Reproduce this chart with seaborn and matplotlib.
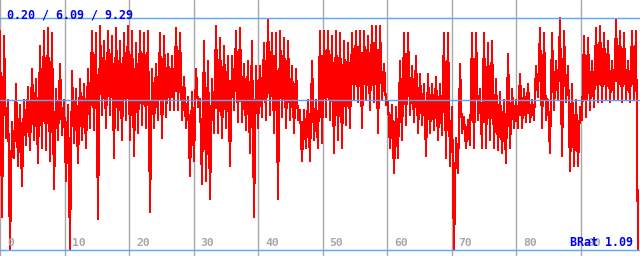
import numpy as np
import matplotlib
matplotlib.use("Agg")
import matplotlib.pyplot as plt
import matplotlib.transforms as mtrans
import seaborn as sns

sns.set_style("white")

# ----------------------------------------------------------------------
# data (alternating high / low of each step)
# ----------------------------------------------------------------------
series = [
    8.8, 1.5, 8.6, 4.6, 6.1, 0.2, 5.2, 3.8, 6.7, 3.5, 5.9, 2.7, 6.1, 4.3, 6.6, 4.1, 7.3, 4.5, 6.9, 3.6,
    8.2, 4.2, 8.8, 4.1, 8.9, 3.7, 8.7, 2.6, 6.5, 4.5, 7.5, 4.7, 6.1, 2.9, 5.9, 0.2, 7.2, 4.4, 6.5, 3.6,
    6.9, 4.5, 6.7, 4.2, 7.3, 5.0, 8.8, 4.9, 8.7, 1.4, 9.0, 5.5, 8.4, 5.0, 8.8, 5.5, 8.6, 3.8, 8.9, 4.9,
    8.4, 4.5, 8.7, 5.3, 9.0, 4.5, 8.8, 3.9, 8.3, 4.8, 8.8, 5.1, 8.7, 5.0, 8.8, 1.7, 7.3, 5.0, 7.5, 5.3,
    8.7, 4.6, 8.6, 5.4, 7.9, 5.7, 7.8, 5.7, 8.9, 5.7, 8.7, 5.3, 7.0, 5.0, 6.2, 3.1, 6.4, 3.7, 7.3, 5.8,
    6.1, 2.8, 8.4, 2.9, 7.6, 2.2, 6.9, 4.8, 9.0, 4.8, 8.5, 4.6, 8.2, 5.0, 7.8, 3.5, 7.8, 5.7, 8.8, 5.2,
    8.9, 5.2, 7.5, 4.9, 7.6, 4.0, 8.4, 1.5, 7.4, 5.0, 7.4, 5.4, 8.3, 5.3, 9.2, 5.5, 8.7, 4.8, 8.7, 2.2,
    8.8, 5.4, 8.5, 5.0, 8.4, 5.3, 7.4, 4.8, 7.3, 5.3, 5.7, 3.7, 5.7, 4.2, 6.1, 3.7, 7.6, 4.5, 6.1, 4.2,
    8.8, 4.4, 8.8, 5.4, 8.8, 5.3, 8.6, 4.0, 8.8, 4.5, 8.7, 4.2, 8.4, 5.1, 8.3, 5.0, 8.7, 6.1, 8.8, 6.0,
    8.8, 5.0, 8.8, 6.1, 8.6, 5.7, 9.0, 6.0, 9.0, 4.8, 9.0, 6.1, 7.5, 5.9, 6.0, 4.2, 5.9, 3.2, 5.8, 3.8,
    7.6, 4.5, 8.7, 5.1, 8.7, 5.5, 7.4, 5.2, 7.8, 4.8, 7.1, 5.1, 6.7, 3.9, 7.1, 4.8, 6.7, 4.9, 7.0, 4.5,
    6.7, 4.7, 8.7, 3.8, 8.7, 3.5, 5.8, 0.2, 4.6, 3.2, 7.5, 4.8, 5.4, 4.2, 5.3, 4.3, 8.7, 4.2, 8.7, 5.3,
    6.5, 4.2, 8.7, 4.2, 8.3, 4.5, 8.4, 4.2, 6.9, 4.1, 6.4, 4.0, 6.1, 3.6, 7.9, 4.2, 6.5, 5.0, 6.1, 5.0,
    7.1, 5.0, 6.5, 5.2, 6.7, 5.2, 6.1, 5.3, 7.4, 6.2, 8.9, 5.0, 8.7, 5.3, 6.1, 4.0, 8.7, 5.7, 7.6, 6.1,
    9.29, 3.9, 8.8, 6.0, 7.4, 3.3, 6.7, 3.5, 6.1, 3.5, 5.8, 5.3, 8.6, 5.4, 8.5, 5.7, 7.6, 5.8, 8.9, 6.0,
    9.0, 6.0, 8.7, 6.1, 8.4, 6.0, 7.6, 6.1, 9.2, 6.1, 8.8, 6.0, 8.7, 6.1, 7.6, 6.0, 8.8, 6.1, 8.8, 0.2,
]
x_step = 0.31
x_ticks = [0, 10, 20, 30, 40, 50, 60, 70, 80, 90]
stat_lo, stat_mean, stat_hi = 0.20, 6.09, 9.29
brat = 1.09

x = np.arange(len(series)) * x_step

# ----------------------------------------------------------------------
# plot
# ----------------------------------------------------------------------
fig = plt.figure(figsize=(6.4, 2.56), dpi=100)
ax = fig.add_axes([0, 0, 1, 1])

sns.lineplot(x=x, y=series, ax=ax, color="#ff0000", linewidth=0.8,
             antialiased=False, zorder=3)

# vertical grid at the x ticks
for t in x_ticks:
    ax.axvline(t, color="#a8a8a8", linewidth=1.0, zorder=1)

# min / mean / max reference lines
for v in (stat_lo, stat_mean, stat_hi):
    ax.axhline(v, color="#5aa8f0", linewidth=1.0, zorder=4)

ax.set_xlim(0, 99.2)
ax.set_ylim(-0.035, 10.0)
ax.set_xticks([])
ax.set_yticks([])
for s in ax.spines.values():
    s.set_visible(False)

# tick labels, drawn inside the plot just right of each grid line
lab_tr = mtrans.offset_copy(ax.get_xaxis_transform(), fig=fig, x=7, y=0, units="dots")
for t in x_ticks:
    ax.text(t, 0.039, str(t), transform=lab_tr, ha="left", va="baseline",
            family="DejaVu Sans Mono", fontweight="bold", fontsize=8.2,
            color="#a8a8a8", zorder=5)

ax.text(0.011, 0.926, f"{stat_lo:.2f} / {stat_mean:.2f} / {stat_hi:.2f}",
        transform=ax.transAxes, ha="left", va="baseline",
        family="DejaVu Sans Mono", fontweight="bold", fontsize=8.4,
        color="#0000f0", zorder=6)
ax.text(0.989, 0.039, f"BRat {brat:.2f}", transform=ax.transAxes,
        ha="right", va="baseline", family="DejaVu Sans Mono",
        fontweight="bold", fontsize=8.4, color="#0000f0", zorder=6)

fig.savefig("out.png", dpi=100)
